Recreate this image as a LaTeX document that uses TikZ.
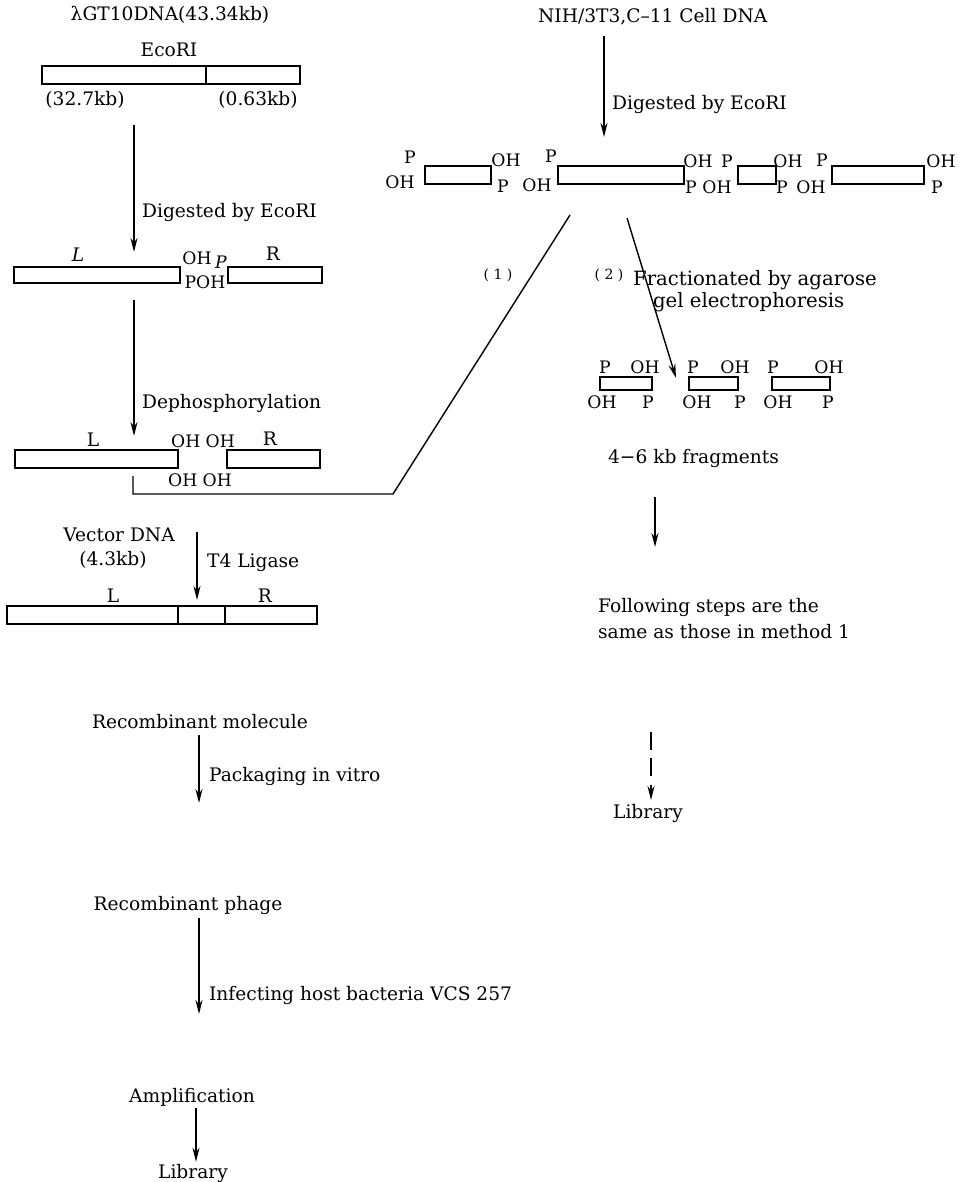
\documentclass[tikz,border=0pt]{standalone}
\usepackage{fontspec}
\setmainfont{DejaVu Serif}
\usetikzlibrary{arrows.meta, positioning, fit}

\begin{document}
\begin{tikzpicture}[
    x=0.02cm, y=-0.02cm,
    every node/.style={font=\fontsize{10.6}{12.5}\selectfont, inner sep=1pt},
    bar/.style={draw, line width=0.8pt, inner sep=0pt, fit={#1}},
    tag/.style={font=\fontsize{9.8}{11}\selectfont, inner sep=0pt},
    note/.style={anchor=west},
    flow/.style={line width=1pt, -{Stealth[length=8pt, width=4pt]}},
    link/.style={line width=0.8pt},
  ]
  \useasboundingbox (0,0) rectangle (968,1182);

  % lambda GT10 vector
  \node (gtdna) at (170,15) {λGT10DNA(43.34kb)};
  \node (ecosite) at (169,50) {EcoRI};
  \node[bar={(42,66) (300,84)}] (lambar) {};
  \draw[link] (206,66) -- (206,84);
  \node (kbleft) at (85,100) {(32.7kb)};
  \node (kbright) at (258,100) {(0.63kb)};

  \coordinate (cut1) at (134,125);
  \coordinate (cut1e) at (134,252);
  \draw[flow] (cut1) -- (cut1e);
  \node[note] (dig1) at (140,212) {Digested by EcoRI};

  % arms after digestion
  \node[bar={(14,267) (180,283)}] (larm1) {};
  \node[bar={(228,267) (322,283)}] (rarm1) {};
  \node (lname1) at (78,255) {\textit{L}};
  \node (rname1) at (273,254) {R};
  \node[tag] (oh1) at (197,258) {OH};
  \node[tag] (p1) at (221,262) {\textit{P}};
  \node[tag] (poh1) at (205,282) {POH};

  \coordinate (dep) at (134,300);
  \coordinate (depe) at (134,436);
  \draw[flow] (dep) -- (depe);
  \node[note] (dep1) at (140,403) {Dephosphorylation};

  % dephosphorylated arms
  \node[bar={(15,450) (178,468)}] (larm2) {};
  \node[bar={(227,450) (320,468)}] (rarm2) {};
  \node (lname2) at (93,440) {L};
  \node (rname2) at (270,439) {R};
  \node[tag] (ohtop) at (203,441) {OH OH};
  \node[tag] (ohbot) at (200,480) {OH OH};

  % joining line, method (1)
  \coordinate (jn1) at (133,476);
  \coordinate (jn2) at (393,494);
  \coordinate (fr1) at (570,215);
  \draw[link] (jn1) |- (jn2) -- (fr1);
  \node[font=\fontsize{8}{9}\selectfont] (m1) at (498,275) {( 1 )};

  % cell DNA
  \node[anchor=west] (nih) at (536,17) {NIH/3T3,C–11 Cell DNA};
  \coordinate (cut2) at (604,36);
  \coordinate (cut2e) at (604,137);
  \draw[flow] (cut2) -- (cut2e);
  \node[note] (dig2) at (610,104) {Digested by EcoRI};

  % fragments
  \node[bar={(425,166) (491,184)}] (frag1) {};
  \node[bar={(558,166) (684,184)}] (frag2) {};
  \node[bar={(738,166) (776,184)}] (frag3) {};
  \node[bar={(832,166) (924,184)}] (frag4) {};
  \node[tag] at (410,157) {P};  \node[tag] at (400,182) {OH};
  \node[tag] at (506,160) {OH}; \node[tag] at (503,186) {P};
  \node[tag] at (551,156) {P};  \node[tag] at (537,185) {OH};
  \node[tag] at (698,161) {OH}; \node[tag] at (727,161) {P};
  \node[tag] at (691,187) {P};  \node[tag] at (717,187) {OH};
  \node[tag] at (788,161) {OH}; \node[tag] at (782,187) {P};
  \node[tag] at (822,160) {P};  \node[tag] at (811,187) {OH};
  \node[tag] at (941,161) {OH}; \node[tag] at (937,187) {P};

  % method (2)
  \coordinate (fr2) at (627,218);
  \coordinate (fr2e) at (676,378);
  \draw[flow, line width=0.8pt] (fr2) -- (fr2e);
  \node[font=\fontsize{8}{9}\selectfont] (m2) at (609,275) {( 2 )};
  \node[note, font=\fontsize{11.2}{13}\selectfont] (frac1) at (631,280) {Fractionated by agarose};
  \node[note, font=\fontsize{11.2}{13}\selectfont] (frac2) at (651,302) {gel electrophoresis};

  \node[bar={(600,377) (652,390)}] (sel1) {};
  \node[bar={(689,377) (738,390)}] (sel2) {};
  \node[bar={(772,377) (830,390)}] (sel3) {};
  \node[tag] at (605,367) {P};  \node[tag] at (645,367) {OH};
  \node[tag] at (602,402) {OH}; \node[tag] at (648,402) {P};
  \node[tag] at (693,367) {P};  \node[tag] at (735,367) {OH};
  \node[tag] at (697,402) {OH}; \node[tag] at (740,402) {P};
  \node[tag] at (773,367) {P};  \node[tag] at (829,367) {OH};
  \node[tag] at (778,402) {OH}; \node[tag] at (828,402) {P};

  \node[note] (kbfrag) at (606,458) {4−6 kb fragments};
  \coordinate (nx) at (655,497);
  \coordinate (nxe) at (655,547);
  \draw[flow] (nx) -- (nxe);
  \node[note] (same1) at (596,607) {Following steps are the};
  \node[note] (same2) at (596,632) {same as those in method 1};
  \coordinate (lb) at (651,732);
  \coordinate (lbe) at (651,800);
  \draw[flow, dash pattern=on 10pt off 5pt] (lb) -- (lbe);
  \node (lib2) at (648,813) {Library};

  % vector ligation
  \node (vec) at (119,535) {Vector DNA};
  \node (veckb) at (113,560) {(4.3kb)};
  \coordinate (lig) at (197,532);
  \coordinate (lige) at (197,600);
  \draw[flow] (lig) -- (lige);
  \node[note] (t4) at (205,563) {T4 Ligase};
  \node[bar={(7,606) (317,624)}] (recbar) {};
  \draw[link] (178,606) -- (178,624);
  \draw[link] (225,606) -- (225,624);
  \node (lname3) at (113,596) {L};
  \node (rname3) at (265,596) {R};

  % packaging and amplification
  \node (rmol) at (200,722) {Recombinant molecule};
  \coordinate (pk) at (199,735);
  \coordinate (pke) at (199,803);
  \draw[flow] (pk) -- (pke);
  \node[note] (pack) at (207,776) {Packaging in vitro};
  \node (rphage) at (188,905) {Recombinant phage};
  \coordinate (inf) at (199,918);
  \coordinate (infe) at (199,1014);
  \draw[flow] (inf) -- (infe);
  \node[note] (host) at (207,995) {Infecting host bacteria VCS 257};
  \node (amp) at (192,1097) {Amplification};
  \node (lib1) at (193,1173) {Library};
  \draw[flow] (amp.south -| 196,0) -- (lib1.north -| 196,0);
\end{tikzpicture}
\end{document}
